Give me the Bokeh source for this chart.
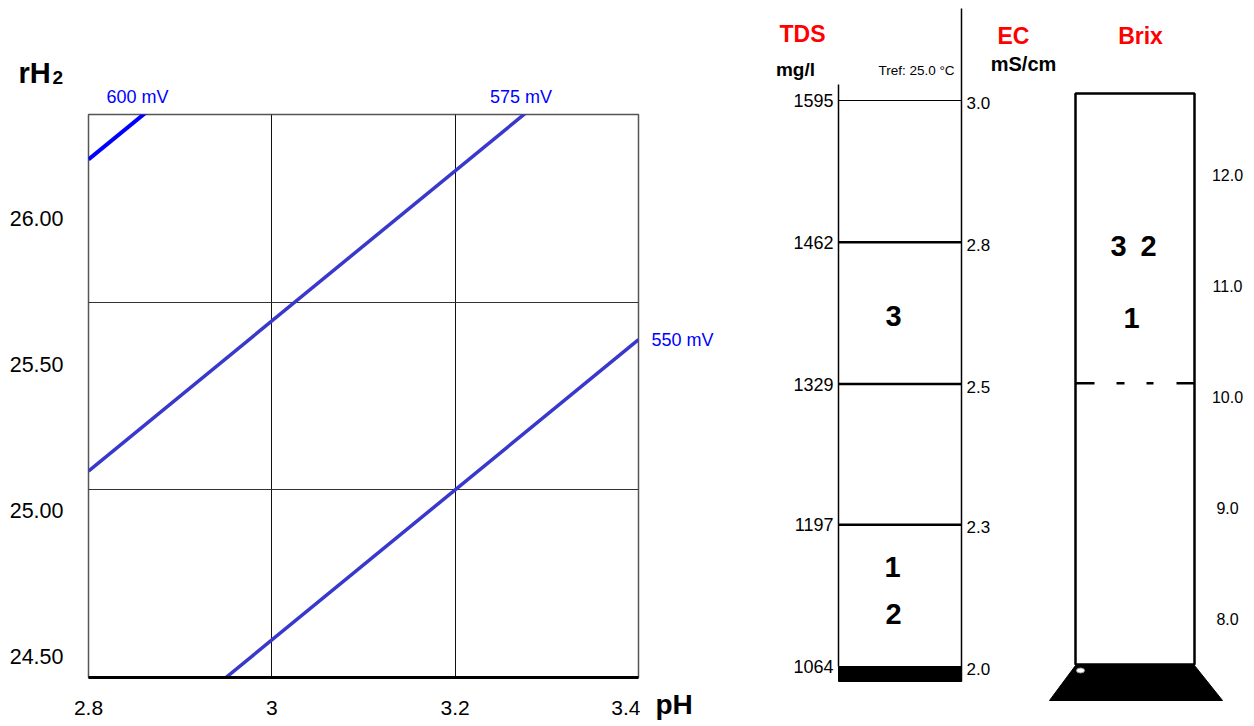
from bokeh.plotting import figure
from bokeh.models import Range1d, LinearAxis, FixedTicker, Grid, ColumnDataSource
from bokeh.layouts import row, column
from bokeh.embed import file_html
from bokeh.resources import INLINE
from bokeh.core.properties import value

FONT = "Liberation Sans"

# ---------------- left chart data ----------------
ph_ticks = [2.8, 3.0, 3.2, 3.4]
ph_tick_labels = ["2.8", "3", "3.2", "3.4"]
rh2_ticks = [24.5, 25.0, 25.5, 26.0]
rh2_tick_labels = ["24.50", "25.00", "25.50", "26.00"]
line_ph = [2.8, 3.4]
rh2_600 = [25.88, 27.08]
rh2_575 = [25.05, 26.25]
rh2_550 = [24.20, 25.40]
mv_labels = ["600 mV", "575 mV", "550 mV"]

# ---------------- right panel data ----------------
tds_ticks = [1595, 1462, 1329, 1197, 1064]
ec_labels = ["3.0", "2.8", "2.5", "2.3", "2.0"]
brix_ticks = [12.0, 11.0, 10.0, 9.0, 8.0]
brix_labels = ["12.0", "11.0", "10.0", "9.0", "8.0"]
samples = ["1", "2", "3"]
sample_tds = [1157, 1113, 1393]
sample_brix = [10.71, 11.36, 11.36]
brix_mark = 10.12

# ---------------- layout geometry (page pixels) ----------------
H = 724
FL, FR, FT, FB = 88, 638, 114, 677          # plot frame of the left chart
PX_PH = (FR - FL) / (ph_ticks[-1] - ph_ticks[0])
PX_RH = (FB - FT) / (rh2_ticks[-1] - rh2_ticks[0])


def ph_at(px):
    return ph_ticks[0] + (px - FL) / PX_PH


def rh_at(py):
    return rh2_ticks[-1] - (py - FT) / PX_RH


def txt(p, xs, ys, ts, size, color="black", bold=False, align="center",
        baseline="middle", rng=None):
    src = ColumnDataSource(dict(x=list(xs), y=list(ys), t=list(ts)))
    kw = {"y_range_name": rng} if rng else {}
    p.text(x="x", y="y", text="t", source=src, text_font=value(FONT),
           text_font_size=value(size), text_color=value(color),
           text_font_style=value("bold" if bold else "normal"),
           text_align=value(align), text_baseline=value(baseline), **kw)


def bare(w, h, xr, yr):
    f = figure(width=w, height=h, title=None, x_range=xr, y_range=yr,
               x_axis_location=None, y_axis_location=None, min_border=0,
               output_backend="svg", toolbar_location=None)
    f.outline_line_color = None
    f.frame_align = False
    for g in f.select(type=Grid):
        g.visible = False
    return f


# ================= main chart =================
TOP_H = FT - 2
p1 = figure(width=640, height=H - TOP_H, title=None,
            x_range=Range1d(ph_ticks[0], ph_ticks[-1]),
            y_range=Range1d(rh2_ticks[0], rh2_ticks[-1]),
            y_axis_location=None, output_backend="svg", toolbar_location=None,
            min_border_left=FL, min_border_right=2, min_border_top=2,
            min_border_bottom=H - TOP_H - 2 - (FB - FT))
p1.frame_align = False
p1.outline_line_color = "#555555"
p1.outline_line_width = 1.5
for g in p1.select(type=Grid):
    g.visible = False
p1.add_layout(Grid(dimension=0, ticker=FixedTicker(ticks=[3.0, 3.2]),
                   grid_line_color="#111111", grid_line_width=1))
p1.add_layout(Grid(dimension=1, ticker=FixedTicker(ticks=[25.0, 25.5]),
                   grid_line_color="#333333", grid_line_width=1))

xa = p1.xaxis[0]
xa.ticker = FixedTicker(ticks=ph_ticks)
xa.major_label_overrides = {t: l for t, l in zip(ph_ticks, ph_tick_labels)}
xa.axis_line_width = 3
xa.axis_line_color = "black"
xa.major_tick_out = 0
xa.major_tick_in = 0
xa.minor_tick_out = 0
xa.minor_tick_in = 0
xa.major_label_standoff = 23
xa.major_label_text_font = FONT
xa.major_label_text_font_size = "21px"
xa.major_label_text_color = "black"

# tick labels of the rH2 axis sit lower than the grid, as in the source chart
p1.extra_y_ranges = {"lab": Range1d(24.428, 26.356)}
ya = LinearAxis(y_range_name="lab", ticker=FixedTicker(ticks=rh2_ticks),
                major_label_overrides={t: l for t, l in zip(rh2_ticks, rh2_tick_labels)},
                axis_line_color=None, major_tick_line_color=None, minor_tick_line_color=None,
                major_tick_out=0, major_tick_in=0, minor_tick_out=0, minor_tick_in=0,
                major_label_standoff=25, major_label_text_font=FONT,
                major_label_text_font_size="21.5px", major_label_text_color="black")
p1.add_layout(ya, "left")

p1.line(line_ph, rh2_600, line_color="#0000ff", line_width=4)
p1.line(line_ph, rh2_575, line_color="#3838cc", line_width=3.5)
p1.line(line_ph, rh2_550, line_color="#3838cc", line_width=3.5)


def top_cross(vals):
    return line_ph[0] + (rh2_ticks[-1] - vals[0]) * (line_ph[1] - line_ph[0]) / (vals[1] - vals[0])


# ---- strip above the chart: rH2 title and mV labels ----
p_top = bare(740, TOP_H, Range1d(ph_at(0), ph_at(740)), Range1d(rh_at(TOP_H), rh_at(0)))
txt(p_top, [ph_at(18)], [rh_at(88)], ["rH"], "29px", bold=True, align="left",
    baseline="bottom")
txt(p_top, [ph_at(52)], [rh_at(83)], ["2"], "19px", bold=True, align="left",
    baseline="bottom")
txt(p_top, [top_cross(rh2_600) - 6 / PX_PH, top_cross(rh2_575) - 3 / PX_PH],
    [rh_at(96), rh_at(96)], mv_labels[:2], "18px", color="#0000ff")

# ---- strip right of the chart: 550 mV label and pH ----
p_mid = bare(100, H - TOP_H, Range1d(ph_at(640), ph_at(740)), Range1d(rh_at(H), rh_at(TOP_H)))
txt(p_mid, [line_ph[1] + 13 / PX_PH], [rh2_550[1]], [mv_labels[2]], "18px",
    color="#0000ff", align="left")
txt(p_mid, [ph_ticks[-1] + 17 / PX_PH], [rh_at(704)], ["pH"], "28px", bold=True,
    align="left")

# ================= right panel =================
TPP = (tds_ticks[0] - tds_ticks[-1]) / (666 - 100)      # mg/l per pixel
p2 = bare(512, H, Range1d(740, 1252),
          Range1d(tds_ticks[-1] - (H - 666) * TPP, tds_ticks[0] + 100 * TPP))
p2.extra_y_ranges = {"px": Range1d(H, 0),
                     "brix": Range1d(brix_ticks[0] - (H - 174) / 111.0,
                                     brix_ticks[0] + 174 / 111.0)}

# TDS / EC column
L, R = 838, 961
widths = [1.2, 2.5, 2.5, 2.5]
for t, w in zip(tds_ticks[:-1], widths):
    p2.segment(x0=[L], y0=[t], x1=[R], y1=[t], line_color="black", line_width=w)
p2.quad(left=[L], right=[R], top=[tds_ticks[-1]], bottom=[tds_ticks[-1] - 15 * TPP],
        fill_color="black", line_color="black")
p2.segment(x0=[R], y0=[8], x1=[R], y1=[681], line_color="black", line_width=1.5,
           y_range_name="px")
p2.segment(x0=[L], y0=[84], x1=[L], y1=[666], line_color="black", line_width=1.5,
           y_range_name="px")

txt(p2, [833] * len(tds_ticks), tds_ticks, [str(t) for t in tds_ticks], "18px",
    align="right")
txt(p2, [966] * len(tds_ticks), [t - 2.5 * TPP for t in tds_ticks], ec_labels,
    "17px", align="left")
txt(p2, [892, 893, 893], sample_tds, samples, "29px", bold=True)

# headers
txt(p2, [802, 1013, 1140], [33, 35, 35], ["TDS", "EC", "Brix"], "23px",
    color="#ff0000", bold=True, rng="px")
txt(p2, [795], [69], ["mg/l"], "19px", bold=True, rng="px")
txt(p2, [1023], [63], ["mS/cm"], "20px", bold=True, rng="px")
txt(p2, [916], [70], ["Tref: 25.0 °C"], "13.5px", rng="px")

# Brix column
BL, BR = 1075, 1194
p2.quad(left=[BL], right=[BR], top=[93], bottom=[664], fill_color=None,
        line_color="black", line_width=2.5, y_range_name="px")
p2.patch([BL, BR, 1222, 1049], [665, 665, 700, 700], fill_color="black",
         line_color="black", y_range_name="px")
p2.ellipse(x=[1080], y=[670], width=8, height=5, fill_color="white",
           line_color="#999999", y_range_name="px")
p2.line([BL, BR], [brix_mark, brix_mark], line_color="black", line_width=2.5,
        line_dash="19 22 8 22 7 23", y_range_name="brix")
txt(p2, [1227] * len(brix_ticks), brix_ticks, brix_labels, "16px", rng="brix")
txt(p2, [1131, 1148, 1118], sample_brix, samples, "29px", bold=True, rng="brix")

layout = row(column(p_top, row(p1, p_mid)), p2)
open("out.html", "w").write(file_html(layout, INLINE))
